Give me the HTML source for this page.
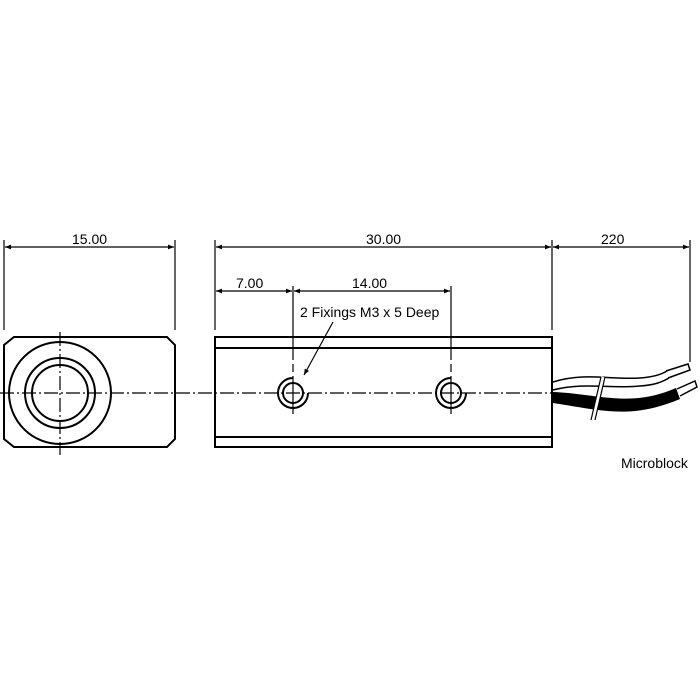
<!DOCTYPE html>
<html><head><style>body{margin:0;background:#fff}svg{display:block}text{font-family:"Liberation Sans",sans-serif;font-size:14px;fill:#000}</style></head><body>
<svg width="700" height="700" viewBox="0 0 700 700" xmlns="http://www.w3.org/2000/svg">
<defs><marker id="a" viewBox="0 0 10 10" refX="10" refY="5" markerWidth="9" markerHeight="6" orient="auto-start-reverse" markerUnits="userSpaceOnUse"><path d="M0,1 L10,5 L0,9 z" fill="#000"/></marker></defs>
<g stroke="#000" fill="none" stroke-width="1.2">
<line x1="4" y1="240" x2="4" y2="330"/><line x1="175" y1="240" x2="175" y2="330"/>
<line x1="215" y1="240" x2="215" y2="330"/><line x1="552" y1="240" x2="552" y2="330"/>
<line x1="690" y1="240" x2="690" y2="362"/>
<line x1="293" y1="286" x2="293" y2="360"/><line x1="451" y1="286" x2="451" y2="360"/>
<line x1="293" y1="364" x2="293" y2="372" /><line x1="451" y1="364" x2="451" y2="372"/>
<line x1="293" y1="376" x2="293" y2="414"/><line x1="451" y1="376" x2="451" y2="414"/>
<line x1="5" y1="247" x2="174" y2="247" marker-start="url(#a)" marker-end="url(#a)"/>
<line x1="216" y1="247" x2="551" y2="247" marker-start="url(#a)" marker-end="url(#a)"/>
<line x1="553" y1="247" x2="689" y2="247" marker-start="url(#a)" marker-end="url(#a)"/>
<line x1="216" y1="291" x2="292" y2="291" marker-start="url(#a)" marker-end="url(#a)"/>
<line x1="294" y1="291" x2="450" y2="291" marker-start="url(#a)" marker-end="url(#a)"/>
<path d="M14,337 H167 L175,345 V439 L167,447 H14 L4,439 V345 Z" stroke-width="2"/>
<circle cx="60" cy="393" r="51" stroke-width="2"/>
<circle cx="60" cy="393" r="35" stroke-width="2"/>
<circle cx="60" cy="393" r="28" stroke-width="2"/>
<line x1="60" y1="332" x2="60" y2="455" stroke-dasharray="14,3,2,3"/>
<rect x="215" y="337" width="337" height="110" stroke-width="2"/>
<line x1="215" y1="348" x2="552" y2="348" stroke-width="2"/>
<line x1="215" y1="437" x2="552" y2="437" stroke-width="2"/>
<circle cx="293" cy="393" r="10" stroke-width="2"/><circle cx="451" cy="393" r="10" stroke-width="2"/>
<path d="M293,378 A15,15 0 1 0 308,393" stroke-width="2"/>
<path d="M451,378 A15,15 0 1 0 466,393" stroke-width="2"/>
<line x1="0" y1="393" x2="558" y2="393" stroke-dasharray="14,3,2,3"/>
<line x1="333" y1="322" x2="304" y2="375" marker-end="url(#a)"/>
<path d="M553,392 C600,394 630,408 676,388 L680,399 C630,420 600,410 553,403 Z" fill="#000" stroke="none"/>
<path d="M553,382 C585,372 610,380 640,378 C655,377 662,374 667,371" stroke-width="1.5"/>
<path d="M553,390 C585,382 610,389 640,386 C655,385 662,382 669,378" stroke-width="1.5"/>
<path d="M666,371 L688,364 L690,370 L668,378" stroke-width="1.5"/>
<path d="M677,389 L695,381 L697,387 L680,396" stroke-width="1.5"/>
<path d="M603,377 L593,420" stroke="#fff" stroke-width="4"/>
<path d="M601,377 L591,420 M605,377 L595,420" stroke-width="1.2"/>
</g>
<text x="72" y="244">15.00</text>
<text x="366" y="244">30.00</text>
<text x="601" y="244">220</text>
<text x="236" y="288">7.00</text>
<text x="352" y="288">14.00</text>
<text x="300" y="317">2 Fixings M3 x 5 Deep</text>
<text x="621" y="468">Microblock</text>
</svg>
</body></html>
